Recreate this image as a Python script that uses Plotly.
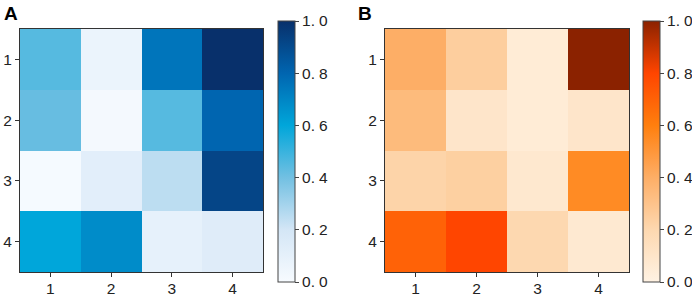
import plotly.graph_objects as go

cats = ["1", "2", "3", "4"]
vals_a = [
    [0.45, 0.07, 0.75, 1.00],
    [0.42, 0.02, 0.45, 0.80],
    [0.01, 0.12, 0.25, 0.92],
    [0.60, 0.68, 0.10, 0.14],
]
vals_b = [
    [0.40, 0.25, 0.05, 1.00],
    [0.34, 0.10, 0.05, 0.10],
    [0.22, 0.24, 0.08, 0.55],
    [0.70, 0.80, 0.20, 0.07],
]
cb_ticks = [0.0, 0.2, 0.4, 0.6, 0.8, 1.0]
cb_text = ["0.\u20050", "0.\u20052", "0.\u20054", "0.\u20056", "0.\u20058", "1.\u20050"]

blues = [[0.0, "#f7fbff"], [0.2, "#d4e6f6"], [0.4, "#72c0e2"], [0.6, "#00a6da"],
         [0.8, "#0065b0"], [1.0, "#08306b"]]
oranges = [[0.0, "#fff2e3"], [0.2, "#fdd8b0"], [0.4, "#fdae66"], [0.6, "#ff7f0e"],
           [0.8, "#ff4500"], [1.0, "#8b2200"]]

W, H = 692, 296
font = dict(family="Liberation Sans", size=15.5, color="#222")

def cb(x0):
    return dict(x=x0 / W, xanchor="left", thickness=17, thicknessmode="pixels",
                len=261, lenmode="pixels", y=1 - 151.5 / H, yanchor="middle",
                outlinewidth=1, outlinecolor="#444", tickvals=cb_ticks, ticktext=cb_text,
                ticks="outside", ticklen=4, tickcolor="#444", tickfont=font, xpad=0, ypad=0)

fig = go.Figure()
fig.add_trace(go.Heatmap(z=vals_a, x=cats, y=cats, colorscale=blues, zmin=0, zmax=1,
                         colorbar=cb(278), xaxis="x", yaxis="y"))
fig.add_trace(go.Heatmap(z=vals_b, x=cats, y=cats, colorscale=oranges, zmin=0, zmax=1,
                         colorbar=cb(643), xaxis="x2", yaxis="y2"))

ax = dict(showline=True, linecolor="#333", linewidth=1, mirror=True, ticks="outside",
          ticklen=4, tickcolor="#333", tickfont=font, showgrid=False, zeroline=False,
          automargin=False)
xax = dict(ax, ticklabelstandoff=-2)
ydom = [1 - 272 / H, 1 - 29 / H]
fig.update_layout(
    template="none",
    width=W, height=H, margin=dict(l=0, r=0, t=0, b=0, pad=0, autoexpand=False),
    paper_bgcolor="white", plot_bgcolor="white",
    xaxis=dict(domain=[20 / W, 263 / W], anchor="y", **xax),
    yaxis=dict(domain=ydom, anchor="x", autorange="reversed", **ax),
    xaxis2=dict(domain=[385 / W, 629 / W], anchor="y2", **xax),
    yaxis2=dict(domain=ydom, anchor="x2", autorange="reversed", **ax),
    annotations=[
        dict(text="<b>A</b>", x=2 / W, y=1 - 1 / H, xref="paper", yref="paper",
             xanchor="left", yanchor="top", showarrow=False,
             font=dict(family="Liberation Sans", size=19, color="black")),
        dict(text="<b>B</b>", x=356 / W, y=1 - 1 / H, xref="paper", yref="paper",
             xanchor="left", yanchor="top", showarrow=False,
             font=dict(family="Liberation Sans", size=19, color="black")),
    ],
)
fig.write_html("out.html", config={"displayModeBar": False},
               post_script="document.body.style.margin='0';document.body.style.overflow='hidden';")
